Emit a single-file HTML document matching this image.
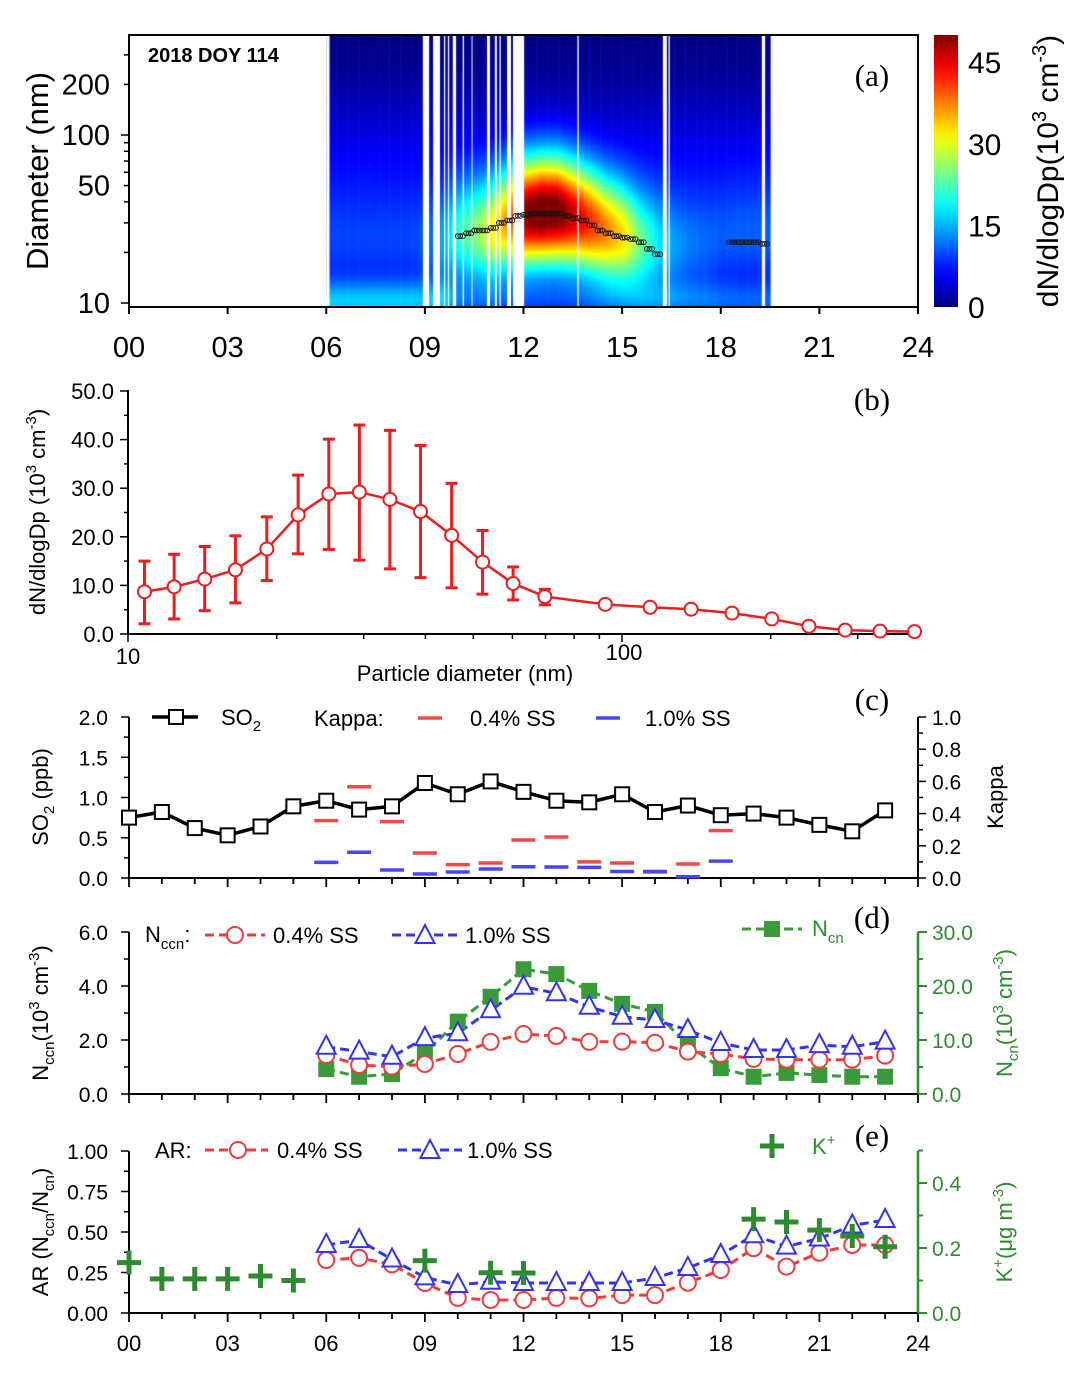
<!DOCTYPE html>
<html><head><meta charset="utf-8"><title>DOY 114 chart</title>
<style>
html,body{margin:0;padding:0;background:#fff;}
#wrap{position:relative;width:1076px;height:1373px;overflow:hidden;}
#heat{position:absolute;left:129px;top:35px;}
#svg{position:absolute;left:0;top:0;}
text{font-family:"Liberation Sans",Arial,sans-serif;}
</style></head>
<body>
<div id="wrap">
<canvas id="heat" width="789" height="272"></canvas>
<svg id="svg" width="1076" height="1373" xmlns="http://www.w3.org/2000/svg"></svg>
</div>
<script>
// ---------- data: panel (a) heatmap ----------
const heatTimes = [6,6.5,7,7.5,8,8.5,9,9.5,10,10.5,11,11.5,12,12.5,13,13.5,14,14.5,15,15.5,16,16.5,17,17.5,18,18.5,19,19.5];
const heatModeD = [20,20,20,20,20,20,20,21,24,25,26,30,33,34,34,32,29,26,24,22,21,20,20,20,21,22,22,22];
const heatModeAmp = [7,7,7,7,7,7,8,12,18,22,28,33,46,48,47,42,38,34,30,22,16,12,10,9,8,8,8,8];
const heatNucAmp = [13,13,13,13,13,13,12,12,7,6,6,6,6,6,6,6,6,6,6,7,8,8,8,8,8,8,8,8];
const heatGaps = [[6.0,6.1],[8.94,9.13],[9.25,9.46],[9.58,9.62],[9.70,9.74],[9.85,9.95],[10.15,10.19],[10.42,10.45],[10.89,10.98],[11.13,11.19],[11.27,11.31],[11.50,11.62],[11.68,12.02],[13.64,13.68],[16.24,16.36],[16.41,16.45],[19.25,19.35]];
const dotTimes = [10,10.25,10.5,10.75,11,11.25,11.5,11.75,12,12.25,12.5,12.75,13,13.25,13.5,13.75,14,14.25,14.5,14.75,15,15.25,15.5,15.75,16,18.25,18.5,18.75,19,19.25];
const dotDiam = [25,26,27,27,28,30,31,33,33.5,34,34,34,34,33,32,31,29,27,26,25,24.5,24,23,21,19.5,23,23,23,23,22.5];
// ---------- data: panel (b) ----------
const sizeDiam = [10.8,12.4,14.3,16.5,19.1,22.1,25.5,29.4,33.9,39.1,45.2,52.2,60.2,69.8,92.5,114,138,167,201,239,283,333,391];
const sizeMean = [8.7,9.7,11.3,13.2,17.5,24.5,28.8,29.2,27.7,25.2,20.3,14.8,10.4,7.7,6.1,5.5,5.1,4.3,3.1,1.6,0.8,0.6,0.5];
const sizeUpper = [15.0,16.4,18.0,20.2,24.1,32.7,40.1,43.0,41.9,38.8,31.0,21.3,13.8,9.2,6.5,5.9,5.5,4.7,3.5,2.0,1.1,0.9,0.8];
const sizeLower = [2.1,3.1,4.8,6.4,11.0,16.5,17.4,15.2,13.4,11.6,9.5,8.2,7.0,6.0,5.7,5.1,4.7,3.9,2.7,1.2,0.5,0.3,0.2];
// ---------- data: panels (c)-(e) ----------
const hours = [0,1,2,3,4,5,6,7,8,9,10,11,12,13,14,15,16,17,18,19,20,21,22,23];
const hours6 = [6,7,8,9,10,11,12,13,14,15,16,17,18,19,20,21,22,23];
const hoursK = [6,7,8,9,10,11,12,13,14,15,16,17,18];
const so2 = [0.75,0.82,0.62,0.53,0.64,0.89,0.96,0.85,0.89,1.18,1.04,1.20,1.07,0.96,0.94,1.04,0.82,0.90,0.78,0.80,0.75,0.66,0.58,0.84];
const kappa04 = [0.356,0.567,0.35,0.155,0.083,0.093,0.236,0.255,0.10,0.093,0.037,0.087,0.294];
const kappa10 = [0.097,0.16,0.05,0.025,0.037,0.056,0.07,0.068,0.066,0.04,0.04,0.008,0.105];
const nccn04 = [1.44,1.07,1.01,1.11,1.48,1.93,2.22,2.15,1.93,1.94,1.90,1.57,1.48,1.30,1.27,1.27,1.27,1.42];
const nccn10 = [1.75,1.57,1.38,2.07,2.25,3.10,3.97,3.73,3.23,2.86,2.74,2.37,1.89,1.63,1.63,1.81,1.75,1.94];
const ncn = [4.6,3.2,3.7,7.6,13.4,18.0,23.1,22.2,19.1,16.7,15.2,9.1,4.8,3.2,3.9,3.5,3.2,3.2];
const ar04 = [0.327,0.34,0.30,0.185,0.093,0.08,0.08,0.093,0.09,0.11,0.11,0.187,0.265,0.40,0.286,0.372,0.42,0.42];
const ar10 = [0.42,0.45,0.33,0.22,0.173,0.193,0.185,0.185,0.185,0.185,0.216,0.278,0.358,0.48,0.41,0.46,0.54,0.574];
const kHours = [0,1,2,3,4,5,9,11,12,19,20,21,22,23];
const kPlus = [0.155,0.105,0.105,0.105,0.114,0.10,0.161,0.124,0.123,0.289,0.28,0.255,0.237,0.204];
const hourTickLabels = ['00','03','06','09','12','15','18','21','24'];

// ---------- helpers ----------
const NS='http://www.w3.org/2000/svg';
const svg=document.getElementById('svg');
function mk(tag, attrs, name, parent){
  const el=document.createElementNS(NS,tag);
  for(const k in attrs) el.setAttribute(k, attrs[k]);
  
  
  (parent||svg).appendChild(el);
  return el;
}
function ln(x1,y1,x2,y2,name,stroke,w,extra){
  const a={x1:x1,y1:y1,x2:x2,y2:y2,stroke:stroke||'#000','stroke-width':w||2};
  if(extra) for(const k in extra) a[k]=extra[k];
  return mk('line',a,name);
}
function tx(x,y,html,name,o){
  o=o||{};
  const a={x:x,y:y,'font-size':o.size||22,fill:o.fill||'#000','text-anchor':o.anchor||'start'};
  if(o.family) a.style='font-family:'+o.family;
  if(o.weight) a['font-weight']=o.weight;
  if(o.rot!==undefined) a.transform='rotate('+o.rot+' '+x+' '+y+')';
  const el=mk('text',a,name);
  el.innerHTML=html;
  return el;
}
const SERIF="'Liberation Serif',serif";
const xH=h=>129+h*32.875;
const L10=Math.log10;

// ---------- panel (a) ----------
const ya=d=>303-168*(L10(d)-1);
function clamp(v){return Math.max(0,Math.min(1,v));}
function jet(v){v=clamp(v);return [clamp(Math.min(4*v-1.5,-4*v+4.5)),clamp(Math.min(4*v-0.5,-4*v+3.5)),clamp(Math.min(4*v+0.5,-4*v+2.5))];}
function interp(arrX,arrY,t){
  if(t<=arrX[0])return arrY[0];
  for(let i=0;i<arrX.length-1;i++){if(t<=arrX[i+1]){const f=(t-arrX[i])/(arrX[i+1]-arrX[i]);return arrY[i]+f*(arrY[i+1]-arrY[i]);}}
  return arrY[arrY.length-1];
}
(function(){
  const cv=document.getElementById('heat');const ctx=cv.getContext('2d');
  const step=1/12;
  for(let t=heatTimes[0];t<heatTimes[heatTimes.length-1]-0.05;t+=step){
    const x0=xH(t)-129, x1=xH(t+step)-129;
    const md=interp(heatTimes,heatModeD,t), amp=interp(heatTimes,heatModeAmp,t), nuc=interp(heatTimes,heatNucAmp,t);
    for(let py=0;py<272;py+=2){
      const d=Math.pow(10,(303-(35+py+1))/168+1);
      const a=L10(d/md), b=L10(d/10), c=L10(d/60);
      const v=amp*Math.exp(-a*a/(2*0.23*0.23))+nuc*Math.exp(-b*b/(2*0.09*0.09))+6*Math.exp(-c*c/(2*0.33*0.33));
      const col=jet(v/50);
      ctx.fillStyle='rgb('+Math.round(col[0]*255)+','+Math.round(col[1]*255)+','+Math.round(col[2]*255)+')';
      ctx.fillRect(x0,py,x1-x0+0.6,2);
    }
  }
  ctx.fillStyle='#fff';
  heatGaps.forEach(g=>{ctx.fillRect(xH(g[0])-129,0,xH(g[1])-xH(g[0]),272);});
})();
dotTimes.forEach((t,i)=>{
  [0,0.08,0.16].forEach(o=>{
    mk('circle',{cx:xH(t+o),cy:ya(dotDiam[i]),r:2.4,fill:'none',stroke:'#111','stroke-width':0.9},'mode-diameter-dot');
  });
});
mk('rect',{x:129,y:35,width:789,height:272,fill:'none',stroke:'#000','stroke-width':2},'panel-a-frame');
[10,20,30,40,50,60,70,80,90,100,200,300].forEach(d=>{
  const major=(d===10||d===100);
  ln(129-(major?8:5),ya(d),129,ya(d),'panel-a-y-tick','#000',1.5);
});
[[200,'200'],[100,'100'],[50,'50'],[10,'10']].forEach(p=>tx(110,ya(p[0])+10,p[1],'panel-a-y-tick-label',{size:29,anchor:'end'}));
hourTickLabels.forEach((l,i)=>{
  ln(xH(i*3),307,xH(i*3),314,'panel-a-x-tick','#000',2);
  tx(xH(i*3),357,l,'panel-a-x-tick-label',{size:29,anchor:'middle'});
});
tx(48,171,'Diameter (nm)','panel-a-y-axis-title',{size:31,anchor:'middle',rot:-90});
tx(148,62,'2018 DOY 114','panel-a-date-label',{size:20,weight:'bold'});
tx(872,86,'(a)','panel-a-label',{size:31,family:SERIF,anchor:'middle'});
const defs=mk('defs',{},'defs');
const grad=mk('linearGradient',{id:'jetg',x1:0,y1:1,x2:0,y2:0},'colorbar-gradient',defs);
for(let i=0;i<=20;i++){const c=jet(i/20);mk('stop',{offset:(i*5)+'%','stop-color':'rgb('+Math.round(c[0]*255)+','+Math.round(c[1]*255)+','+Math.round(c[2]*255)+')'},'gradient-stop',grad);}
mk('rect',{x:934,y:35,width:24,height:272,fill:'url(#jetg)'},'colorbar');
const cbY=v=>307-v*272/50;
[0,15,30,45].forEach(v=>{tx(968,cbY(v)+11,String(v),'colorbar-tick-label',{size:30});});
tx(1058,171,'dN/dlogDp(10<tspan dy="-12" font-size="20">3</tspan><tspan dy="12"> cm</tspan><tspan dy="-12" font-size="20">-3</tspan><tspan dy="12">)</tspan>','colorbar-title',{size:30,anchor:'middle',rot:-90});

// ---------- panel (b) ----------
const xb=d=>128+494*(L10(d)-1);
const yb=v=>634-v*4.86;
ln(128,634,918,634,'panel-b-x-axis','#000',2);
ln(128,390,128,634,'panel-b-y-axis','#000',2);
for(let v=0;v<=50;v+=5){ln(v%10===0?120:124,yb(v),128,yb(v),'panel-b-y-tick','#000',1.5);}
for(let v=0;v<=50;v+=10){tx(114,yb(v)+8,v.toFixed(1),'panel-b-y-tick-label',{size:22,anchor:'end'});}
[10,20,30,40,50,60,70,80,90,100,200,300].forEach(d=>{const major=(d===10||d===100);ln(xb(d),634,xb(d),major?642:639,'panel-b-x-tick','#000',1.5);});
tx(128,664,'10','panel-b-x-tick-label',{size:22,anchor:'middle'});
tx(624,660,'100','panel-b-x-tick-label',{size:22,anchor:'middle'});
tx(465,681,'Particle diameter (nm)','panel-b-x-axis-title',{size:22,anchor:'middle'});
tx(45,512,'dN/dlogDp (10<tspan dy="-9" font-size="15">3</tspan><tspan dy="9"> cm</tspan><tspan dy="-9" font-size="15">-3</tspan><tspan dy="9">)</tspan>','panel-b-y-axis-title',{size:22,anchor:'middle',rot:-90});
tx(872,410,'(b)','panel-b-label',{size:31,family:SERIF,anchor:'middle'});
mk('polyline',{points:sizeDiam.map((d,i)=>xb(d)+','+yb(sizeMean[i])).join(' '),fill:'none',stroke:'#ee1c1c','stroke-width':2.5},'size-distribution-line');
sizeDiam.forEach((d,i)=>{
  const x=xb(d);
  ln(x,yb(sizeUpper[i]),x,yb(sizeLower[i]),'error-bar','#ee1c1c',3);
  ln(x-6,yb(sizeUpper[i]),x+6,yb(sizeUpper[i]),'error-cap','#ee1c1c',3);
  ln(x-6,yb(sizeLower[i]),x+6,yb(sizeLower[i]),'error-cap','#ee1c1c',3);
  mk('circle',{cx:x,cy:yb(sizeMean[i]),r:6.5,fill:'#fff',stroke:'#ee1c1c','stroke-width':2},'size-distribution-point');
});

// ---------- shared x ticks ----------
function hourAxis(y,pname){
  ln(129,y,918,y,pname+'-x-axis','#000',2);
  for(let h=0;h<=24;h++){ln(xH(h),y,xH(h),y+(h%3===0?9:6),pname+'-x-tick','#000',1.8);}
}
function markerSquare(x,y,name,stroke,fill){mk('rect',{x:x-7,y:y-7,width:14,height:14,fill:fill,stroke:stroke,'stroke-width':2},name);}
function markerCircle(x,y,name){mk('circle',{cx:x,cy:y,r:8,fill:'#fff',stroke:'#f03c3c','stroke-width':2},name);}
function markerTri(x,y,name){mk('polygon',{points:(x)+','+(y-11)+' '+(x-9.5)+','+(y+7)+' '+(x+9.5)+','+(y+7),fill:'#fff',stroke:'#3434f0','stroke-width':2},name);}
function markerPlus(x,y,name){mk('path',{d:'M'+(x-12)+' '+y+'H'+(x+12)+'M'+x+' '+(y-12)+'V'+(y+12),stroke:'#2e8b2e','stroke-width':5,fill:'none'},name);}

// ---------- panel (c) ----------
const ycL=v=>878-v*80.5, ycR=k=>878-k*161;
hourAxis(878,'panel-c');
ln(129,717,129,878,'panel-c-left-axis','#000',2);
ln(918,717,918,878,'panel-c-right-axis','#000',2);
for(let v=0;v<=2.0001;v+=0.25){ln(v*4%2===0?121:124,ycL(v),129,ycL(v),'panel-c-left-tick','#000',1.5);}
['0.0','0.5','1.0','1.5','2.0'].forEach((l,i)=>tx(108,ycL(i*0.5)+8,l,'panel-c-left-tick-label',{size:21,anchor:'end'}));
for(let k=0;k<=10;k++){ln(918,ycR(k/10),k%2===0?926:923,ycR(k/10),'panel-c-right-tick','#000',1.5);}
['0.0','0.2','0.4','0.6','0.8','1.0'].forEach((l,i)=>tx(932,ycR(i*0.2)+8,l,'panel-c-right-tick-label',{size:21}));
tx(48,797,'SO<tspan dy="6" font-size="15">2</tspan><tspan dy="-6"> (ppb)</tspan>','panel-c-left-axis-title',{size:22,anchor:'middle',rot:-90});
tx(1003,797,'Kappa','panel-c-right-axis-title',{size:22,anchor:'middle',rot:-90});
tx(872,710,'(c)','panel-c-label',{size:31,family:SERIF,anchor:'middle'});
mk('polyline',{points:hours.map((h,i)=>xH(h)+','+ycL(so2[i])).join(' '),fill:'none',stroke:'#000','stroke-width':3.5},'so2-line');
hours.forEach((h,i)=>markerSquare(xH(h),ycL(so2[i]),'so2-point','#000','#fff'));
hoursK.forEach((h,i)=>{ln(xH(h)-12,ycR(kappa04[i]),xH(h)+12,ycR(kappa04[i]),'kappa-0.4ss-mark','#f24848',3.5);});
hoursK.forEach((h,i)=>{ln(xH(h)-12,ycR(kappa10[i]),xH(h)+12,ycR(kappa10[i]),'kappa-1.0ss-mark','#4646f2',3.5);});
ln(152,717,198,717,'legend-so2-line','#000',3.5);
markerSquare(176,717,'legend-so2-marker','#000','#fff');
tx(221,725,'SO<tspan dy="6" font-size="15">2</tspan>','legend-so2-label',{size:22});
tx(314,726,'Kappa:','legend-kappa-title',{size:22});
ln(418,718,442,718,'legend-kappa-0.4ss-mark','#f24848',3.5);
tx(470,726,'0.4% SS','legend-kappa-0.4ss-label',{size:22});
ln(596,718,620,718,'legend-kappa-1.0ss-mark','#4646f2',3.5);
tx(645,726,'1.0% SS','legend-kappa-1.0ss-label',{size:22});

// ---------- panel (d) ----------
const ydL=v=>1094-v*27, ydR=v=>1094-v*5.4;
hourAxis(1094,'panel-d');
ln(129,932,129,1094,'panel-d-left-axis','#000',2);
ln(918,932,918,1094,'panel-d-right-axis','#2e8b2e',2.5);
for(let v=0;v<=6;v++){ln(v%2===0?121:124,ydL(v),129,ydL(v),'panel-d-left-tick','#000',1.5);}
['0.0','2.0','4.0','6.0'].forEach((l,i)=>tx(108,ydL(i*2)+8,l,'panel-d-left-tick-label',{size:21,anchor:'end'}));
for(let v=0;v<=30;v+=5){ln(918,ydR(v),v%10===0?927:923,ydR(v),'panel-d-right-tick','#2e8b2e',2);}
['0.0','10.0','20.0','30.0'].forEach((l,i)=>tx(932,ydR(i*10)+8,l,'panel-d-right-tick-label',{size:21,fill:'#2e8b2e'}));
tx(48,1013,'N<tspan dy="6" font-size="15">ccn</tspan><tspan dy="-6">(10</tspan><tspan dy="-9" font-size="15">3</tspan><tspan dy="9"> cm</tspan><tspan dy="-9" font-size="15">-3</tspan><tspan dy="9">)</tspan>','panel-d-left-axis-title',{size:22,anchor:'middle',rot:-90});
tx(1012,1013,'N<tspan dy="6" font-size="15">cn</tspan><tspan dy="-6">(10</tspan><tspan dy="-9" font-size="15">3</tspan><tspan dy="9"> cm</tspan><tspan dy="-9" font-size="15">-3</tspan><tspan dy="9">)</tspan>','panel-d-right-axis-title',{size:22,anchor:'middle',rot:-90,fill:'#2e8b2e'});
tx(872,928,'(d)','panel-d-label',{size:31,family:SERIF,anchor:'middle'});
mk('polyline',{points:hours6.map((h,i)=>xH(h)+','+ydR(ncn[i])).join(' '),fill:'none',stroke:'#3a9a3a','stroke-width':3,'stroke-dasharray':'9,5'},'ncn-line');
mk('polyline',{points:hours6.map((h,i)=>xH(h)+','+ydL(nccn04[i])).join(' '),fill:'none',stroke:'#f03c3c','stroke-width':3,'stroke-dasharray':'9,5'},'nccn-0.4ss-line');
mk('polyline',{points:hours6.map((h,i)=>xH(h)+','+ydL(nccn10[i])).join(' '),fill:'none',stroke:'#3434f0','stroke-width':3,'stroke-dasharray':'9,5'},'nccn-1.0ss-line');
hours6.forEach((h,i)=>markerSquare(xH(h),ydR(ncn[i]),'ncn-point','#3a9a3a','#3a9a3a'));
hours6.forEach((h,i)=>markerCircle(xH(h),ydL(nccn04[i]),'nccn-0.4ss-point'));
hours6.forEach((h,i)=>markerTri(xH(h),ydL(nccn10[i]),'nccn-1.0ss-point'));
tx(145,942,'N<tspan dy="7" font-size="15">ccn</tspan><tspan dy="-7">:</tspan>','legend-nccn-title',{size:22});
ln(205,935,265,935,'legend-nccn-0.4ss-line','#f03c3c',3,{'stroke-dasharray':'9,5'});
markerCircle(235,935,'legend-nccn-0.4ss-marker');
tx(273,943,'0.4% SS','legend-nccn-0.4ss-label',{size:22});
ln(392,935,458,935,'legend-nccn-1.0ss-line','#3434f0',3,{'stroke-dasharray':'9,5'});
markerTri(425,936,'legend-nccn-1.0ss-marker');
tx(465,943,'1.0% SS','legend-nccn-1.0ss-label',{size:22});
ln(742,929,802,929,'legend-ncn-line','#3a9a3a',3,{'stroke-dasharray':'9,5'});
markerSquare(772,929,'legend-ncn-marker','#3a9a3a','#3a9a3a');
tx(812,936,'N<tspan dy="7" font-size="15">cn</tspan>','legend-ncn-label',{size:22,fill:'#2e8b2e'});

// ---------- panel (e) ----------
const yeL=v=>1313-v*162, yeR=v=>1313-v*325;
hourAxis(1313,'panel-e');
ln(129,1151,129,1313,'panel-e-left-axis','#000',2);
ln(918,1151,918,1313,'panel-e-right-axis','#2e8b2e',2.5);
for(let i=0;i<=8;i++){ln(i%2===0?121:124,yeL(i*0.125),129,yeL(i*0.125),'panel-e-left-tick','#000',1.5);}
['0.00','0.25','0.50','0.75','1.00'].forEach((l,i)=>tx(108,yeL(i*0.25)+8,l,'panel-e-left-tick-label',{size:21,anchor:'end'}));
for(let i=0;i<=5;i++){ln(918,yeR(i*0.1),i%2===0?927:923,yeR(i*0.1),'panel-e-right-tick','#2e8b2e',2);}
['0.0','0.2','0.4'].forEach((l,i)=>tx(932,yeR(i*0.2)+8,l,'panel-e-right-tick-label',{size:21,fill:'#2e8b2e'}));
hourTickLabels.forEach((l,i)=>tx(xH(i*3),1351,l,'panel-e-x-tick-label',{size:22,anchor:'middle'}));
tx(48,1232,'AR (N<tspan dy="6" font-size="15">ccn</tspan><tspan dy="-6">/N</tspan><tspan dy="6" font-size="15">cn</tspan><tspan dy="-6">)</tspan>','panel-e-left-axis-title',{size:22,anchor:'middle',rot:-90});
tx(1012,1232,'K<tspan dy="-9" font-size="15">+</tspan><tspan dy="9">(μg m</tspan><tspan dy="-9" font-size="15">-3</tspan><tspan dy="9">)</tspan>','panel-e-right-axis-title',{size:22,anchor:'middle',rot:-90,fill:'#2e8b2e'});
tx(872,1146,'(e)','panel-e-label',{size:31,family:SERIF,anchor:'middle'});
mk('polyline',{points:hours6.map((h,i)=>xH(h)+','+yeL(ar04[i])).join(' '),fill:'none',stroke:'#f03c3c','stroke-width':3,'stroke-dasharray':'9,5'},'ar-0.4ss-line');
mk('polyline',{points:hours6.map((h,i)=>xH(h)+','+yeL(ar10[i])).join(' '),fill:'none',stroke:'#3434f0','stroke-width':3,'stroke-dasharray':'9,5'},'ar-1.0ss-line');
hours6.forEach((h,i)=>markerCircle(xH(h),yeL(ar04[i]),'ar-0.4ss-point'));
hours6.forEach((h,i)=>markerTri(xH(h),yeL(ar10[i]),'ar-1.0ss-point'));
kHours.forEach((h,i)=>markerPlus(xH(h),yeR(kPlus[i]),'k-plus-point'));
tx(155,1158,'AR:','legend-ar-title',{size:22});
ln(205,1150,268,1150,'legend-ar-0.4ss-line','#f03c3c',3,{'stroke-dasharray':'9,5'});
markerCircle(238,1150,'legend-ar-0.4ss-marker');
tx(277,1158,'0.4% SS','legend-ar-0.4ss-label',{size:22});
ln(398,1150,462,1150,'legend-ar-1.0ss-line','#3434f0',3,{'stroke-dasharray':'9,5'});
markerTri(430,1151,'legend-ar-1.0ss-marker');
tx(467,1158,'1.0% SS','legend-ar-1.0ss-label',{size:22});
markerPlus(772,1146,'legend-k-plus-marker');
tx(812,1154,'K<tspan dy="-9" font-size="15">+</tspan>','legend-k-plus-label',{size:22,fill:'#2e8b2e'});
</script>
</body></html>
